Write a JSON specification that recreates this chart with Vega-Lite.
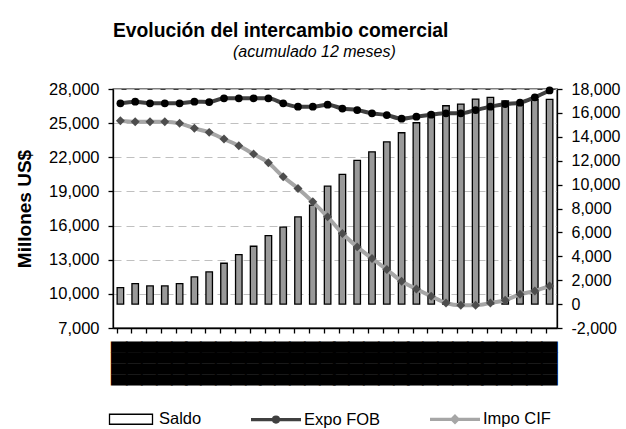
{
  "$schema": "https://vega.github.io/schema/vega-lite/v6.json",
  "width": 444,
  "height": 239,
  "autosize": {"type": "none"},
  "padding": {"left": 113, "top": 89, "right": 69, "bottom": 101},
  "background": "white",
  "config": {
    "font": "Liberation Sans",
    "view": {"stroke": "black", "strokeWidth": 1.3},
    "axis": {"labelFont": "Liberation Sans", "titleFont": "Liberation Sans", "labelColor": "black", "titleColor": "black", "domainColor": "black", "domainWidth": 1.3, "tickColor": "black", "tickWidth": 1.3}
  },
  "title": {
    "text": "Evolución del intercambio comercial",
    "subtitle": "(acumulado 12 meses)",
    "anchor": "start",
    "frame": "group",
    "font": "Liberation Sans",
    "fontSize": 19.3,
    "fontWeight": "bold",
    "color": "black",
    "subtitleFont": "Liberation Sans",
    "subtitleFontSize": 16,
    "subtitleFontStyle": "italic",
    "subtitleColor": "black",
    "subtitlePadding": 3,
    "offset": 21,
    "encode": {"subtitle": {"update": {"dx": {"value": 120}}}}
  },
  "data": {
    "values": [
      {"mes": 1, "serie": "Saldo", "valor": 1383},
      {"mes": 2, "serie": "Saldo", "valor": 1718},
      {"mes": 3, "serie": "Saldo", "valor": 1517},
      {"mes": 4, "serie": "Saldo", "valor": 1517},
      {"mes": 5, "serie": "Saldo", "valor": 1718},
      {"mes": 6, "serie": "Saldo", "valor": 2271},
      {"mes": 7, "serie": "Saldo", "valor": 2690},
      {"mes": 8, "serie": "Saldo", "valor": 3419},
      {"mes": 9, "serie": "Saldo", "valor": 4148},
      {"mes": 10, "serie": "Saldo", "valor": 4843},
      {"mes": 11, "serie": "Saldo", "valor": 5723},
      {"mes": 12, "serie": "Saldo", "valor": 6435},
      {"mes": 13, "serie": "Saldo", "valor": 7298},
      {"mes": 14, "serie": "Saldo", "valor": 8279},
      {"mes": 15, "serie": "Saldo", "valor": 9870},
      {"mes": 16, "serie": "Saldo", "valor": 10851},
      {"mes": 17, "serie": "Saldo", "valor": 12024},
      {"mes": 18, "serie": "Saldo", "valor": 12745},
      {"mes": 19, "serie": "Saldo", "valor": 13583},
      {"mes": 20, "serie": "Saldo", "valor": 14337},
      {"mes": 21, "serie": "Saldo", "valor": 15174},
      {"mes": 22, "serie": "Saldo", "valor": 15987},
      {"mes": 23, "serie": "Saldo", "valor": 16599},
      {"mes": 24, "serie": "Saldo", "valor": 16741},
      {"mes": 25, "serie": "Saldo", "valor": 17160},
      {"mes": 26, "serie": "Saldo", "valor": 17303},
      {"mes": 27, "serie": "Saldo", "valor": 17000},
      {"mes": 28, "serie": "Saldo", "valor": 16900},
      {"mes": 29, "serie": "Saldo", "valor": 17100},
      {"mes": 30, "serie": "Saldo", "valor": 17135},
      {"mes": 1, "serie": "Expo FOB", "valor": 26743},
      {"mes": 2, "serie": "Expo FOB", "valor": 26883},
      {"mes": 3, "serie": "Expo FOB", "valor": 26743},
      {"mes": 4, "serie": "Expo FOB", "valor": 26743},
      {"mes": 5, "serie": "Expo FOB", "valor": 26743},
      {"mes": 6, "serie": "Expo FOB", "valor": 26883},
      {"mes": 7, "serie": "Expo FOB", "valor": 26857},
      {"mes": 8, "serie": "Expo FOB", "valor": 27182},
      {"mes": 9, "serie": "Expo FOB", "valor": 27182},
      {"mes": 10, "serie": "Expo FOB", "valor": 27182},
      {"mes": 11, "serie": "Expo FOB", "valor": 27182},
      {"mes": 12, "serie": "Expo FOB", "valor": 26743},
      {"mes": 13, "serie": "Expo FOB", "valor": 26444},
      {"mes": 14, "serie": "Expo FOB", "valor": 26444},
      {"mes": 15, "serie": "Expo FOB", "valor": 26620},
      {"mes": 16, "serie": "Expo FOB", "valor": 26285},
      {"mes": 17, "serie": "Expo FOB", "valor": 26153},
      {"mes": 18, "serie": "Expo FOB", "valor": 25863},
      {"mes": 19, "serie": "Expo FOB", "valor": 25713},
      {"mes": 20, "serie": "Expo FOB", "valor": 25388},
      {"mes": 21, "serie": "Expo FOB", "valor": 25564},
      {"mes": 22, "serie": "Expo FOB", "valor": 25740},
      {"mes": 23, "serie": "Expo FOB", "valor": 25863},
      {"mes": 24, "serie": "Expo FOB", "valor": 25863},
      {"mes": 25, "serie": "Expo FOB", "valor": 26153},
      {"mes": 26, "serie": "Expo FOB", "valor": 26444},
      {"mes": 27, "serie": "Expo FOB", "valor": 26681},
      {"mes": 28, "serie": "Expo FOB", "valor": 26796},
      {"mes": 29, "serie": "Expo FOB", "valor": 27271},
      {"mes": 30, "serie": "Expo FOB", "valor": 27869},
      {"mes": 1, "serie": "Impo CIF", "valor": 25212},
      {"mes": 2, "serie": "Impo CIF", "valor": 25124},
      {"mes": 3, "serie": "Impo CIF", "valor": 25124},
      {"mes": 4, "serie": "Impo CIF", "valor": 25124},
      {"mes": 5, "serie": "Impo CIF", "valor": 24983},
      {"mes": 6, "serie": "Impo CIF", "valor": 24543},
      {"mes": 7, "serie": "Impo CIF", "valor": 24191},
      {"mes": 8, "serie": "Impo CIF", "valor": 23602},
      {"mes": 9, "serie": "Impo CIF", "valor": 23012},
      {"mes": 10, "serie": "Impo CIF", "valor": 22282},
      {"mes": 11, "serie": "Impo CIF", "valor": 21517},
      {"mes": 12, "serie": "Impo CIF", "valor": 20285},
      {"mes": 13, "serie": "Impo CIF", "valor": 19264},
      {"mes": 14, "serie": "Impo CIF", "valor": 18085},
      {"mes": 15, "serie": "Impo CIF", "valor": 16766},
      {"mes": 16, "serie": "Impo CIF", "valor": 15305},
      {"mes": 17, "serie": "Impo CIF", "valor": 14126},
      {"mes": 18, "serie": "Impo CIF", "valor": 13106},
      {"mes": 19, "serie": "Impo CIF", "valor": 12138},
      {"mes": 20, "serie": "Impo CIF", "valor": 11109},
      {"mes": 21, "serie": "Impo CIF", "valor": 10431},
      {"mes": 22, "serie": "Impo CIF", "valor": 9789},
      {"mes": 23, "serie": "Impo CIF", "valor": 9200},
      {"mes": 24, "serie": "Impo CIF", "valor": 8997},
      {"mes": 25, "serie": "Impo CIF", "valor": 8997},
      {"mes": 26, "serie": "Impo CIF", "valor": 9200},
      {"mes": 27, "serie": "Impo CIF", "valor": 9437},
      {"mes": 28, "serie": "Impo CIF", "valor": 9965},
      {"mes": 29, "serie": "Impo CIF", "valor": 10255},
      {"mes": 30, "serie": "Impo CIF", "valor": 10695}
    ]
  },
  "encoding": {
    "x": {
      "field": "mes",
      "type": "ordinal",
      "scale": {"paddingInner": 0.56, "paddingOuter": 0.28},
      "axis": {
        "title": null,
        "grid": false,
        "tickSize": 5,
        "bandPosition": 0,
        "labelExpr": "'\u2588\u2588\u2588\u2588'",
        "labelAngle": 270,
        "labelFont": "DejaVu Sans",
        "labelFontSize": 14.2,
        "labelColor": "black",
        "labelPadding": 8,
        "labelOverlap": false,
        "labelBound": false,
        "labelFlush": false
      }
    }
  },
  "layer": [
    {
      "transform": [{"filter": "datum.serie === 'Saldo'"}],
      "mark": {"type": "bar", "fill": "#999999", "stroke": "black", "strokeWidth": 1.3, "opacity": 1},
      "encoding": {
        "y": {
          "field": "valor",
          "type": "quantitative",
          "scale": {"domain": [-2000, 18000], "nice": false, "zero": false},
          "axis": {
            "orient": "right",
            "title": null,
            "grid": false,
            "values": [-2000, 0, 2000, 4000, 6000, 8000, 10000, 12000, 14000, 16000, 18000],
            "labelExpr": "replace(format(datum.value, ','), '\u2212', '-')",
            "tickSize": 5,
            "labelPadding": 9,
            "labelFontSize": 16
          }
        }
      }
    },
    {
      "encoding": {
        "y": {
          "field": "valor",
          "type": "quantitative",
          "scale": {"domain": [7000, 28000], "nice": false, "zero": false},
          "axis": {
            "orient": "left",
            "title": "Millones US$",
            "titleFontSize": 19,
            "titleFontWeight": "bold",
            "titlePadding": 14,
            "grid": true,
            "gridColor": "#c0c0c0",
            "gridDash": [8, 5],
            "gridWidth": 1,
            "values": [7000, 10000, 13000, 16000, 19000, 22000, 25000, 28000],
            "labelExpr": "replace(format(datum.value, ','), '\u2212', '-')",
            "tickSize": 5,
            "labelPadding": 9,
            "labelFontSize": 16.5
          }
        }
      },
      "layer": [
        {
          "transform": [{"filter": "datum.serie === 'Expo FOB'"}],
          "mark": {"type": "line", "strokeWidth": 4, "interpolate": "monotone", "color": "#404040"}
        },
        {
          "transform": [{"filter": "datum.serie === 'Expo FOB'"}],
          "mark": {"type": "point", "shape": "circle", "filled": true, "fill": "#000000", "size": 60, "opacity": 1}
        },
        {
          "transform": [{"filter": "datum.serie === 'Impo CIF'"}],
          "mark": {"type": "line", "strokeWidth": 4, "interpolate": "monotone", "color": "#a6a6a6"}
        },
        {
          "transform": [{"filter": "datum.serie === 'Impo CIF'"}],
          "mark": {"type": "point", "shape": "diamond", "filled": true, "fill": "#4d4d4d", "size": 80, "opacity": 1}
        }
      ]
    },
    {
      "mark": {"type": "point", "filled": true, "opacity": 0},
      "encoding": {
        "color": {
          "field": "serie",
          "type": "nominal",
          "scale": {"domain": ["Saldo", "Expo FOB", "Impo CIF"], "range": ["#999999", "#000000", "#4d4d4d"]},
          "legend": {
            "title": null,
            "orient": "none",
            "legendX": -9,
            "legendY": 303,
            "direction": "horizontal",
            "columns": 3,
            "columnPadding": 42,
            "padding": 0,
            "symbolSize": 2500,
            "symbolOpacity": 1,
            "symbolFillColor": "#999999",
            "labelOffset": 1,
            "labelFont": "Liberation Sans",
            "labelFontSize": 16.5,
            "labelColor": "black"
          }
        },
        "stroke": {
          "field": "serie",
          "type": "nominal",
          "scale": {"domain": ["Saldo", "Expo FOB", "Impo CIF"], "range": ["#000000", "#404040", "#a6a6a6"]}
        },
        "shape": {
          "field": "serie",
          "type": "nominal",
          "scale": {"domain": ["Saldo", "Expo FOB", "Impo CIF"], "range": ["M-0.86,-0.2H0.86V0.2H-0.86Z", "M-1,0H1M-0.1,0A0.1,0.1 0 1,0 0.1,0A0.1,0.1 0 1,0 -0.1,0Z", "M-1,0H1M0,-0.12L0.12,0L0,0.12L-0.12,0Z"]}
        },
        "strokeWidth": {
          "field": "serie",
          "type": "nominal",
          "scale": {"type": "ordinal", "domain": ["Saldo", "Expo FOB", "Impo CIF"], "range": [1.3, 3.2, 3.2]}
        }
      }
    }
  ],
  "resolve": {"scale": {"y": "independent"}}
}
